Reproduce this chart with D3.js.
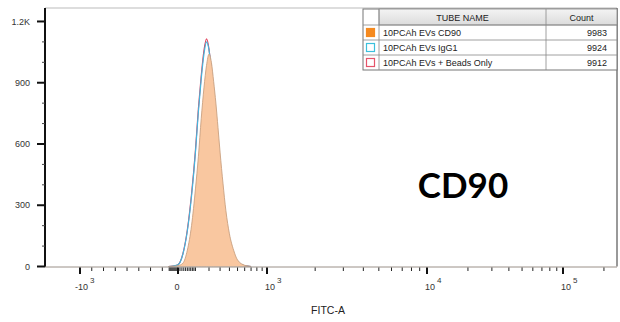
<!DOCTYPE html>
<html><head><meta charset="utf-8">
<script src="https://cdn.jsdelivr.net/npm/d3@7"></script>
<style>html,body{margin:0;padding:0;background:#fff;}svg{display:block;font-family:"Liberation Sans",Arial,sans-serif;}</style>
</head><body><svg id="c" width="620" height="322"></svg>
<script>
// ---- data ----
const tubeNames = ["10PCAh EVs CD90", "10PCAh EVs IgG1", "10PCAh EVs + Beads Only"];
const tubeCounts = [9983, 9924, 9912];
const fitcValues = [-100, -50, 0, 25, 50, 75, 100, 120, 140, 160, 180, 200, 220, 240, 260, 280, 300, 330, 360, 400, 450, 500, 600, 700];
const cd90Counts  = [0, 1, 4, 16, 80, 200, 380, 540, 725, 875, 985, 1040, 1000, 905, 800, 680, 560, 405, 275, 160, 80, 32, 6, 0];
const igg1Counts  = [0, 2, 8, 60, 175, 345, 560, 760, 920, 1040, 1100, 1060, 960, 850, 720, 590, 480, 330, 220, 130, 60, 20, 3, 0];
const beadsCounts = [0, 2, 9, 62, 180, 355, 570, 775, 935, 1058, 1115, 1065, 955, 840, 710, 585, 470, 325, 215, 125, 58, 18, 3, 0];
const yTickValues = [0, 300, 600, 900, 1200];
const yTickLabels = ["0", "300", "600", "900", "1.2K"];
const yMinorTicks = [100, 200, 400, 500, 700, 800, 1000, 1100];
const xMajorTicks = [-1000, 0, 1000, 10000, 100000];
const xLabelBases = ["-10", "0", "10", "10", "10"];
const xLabelExps  = ["3", "", "3", "4", "5"];
const xMinorTicks = [-880,-760,-640,-520,-400,-280,-160,-90,-80,-70,-60,-50,-40,-30,-20,-10,
  10,20,30,40,50,60,70,80,90,100,200,300,400,500,600,700,800,900,
  2000,3000,4000,5000,6000,7000,8000,9000,20000,30000,40000,50000,60000,70000,80000,90000,200000];
const xAxisTitle = "FITC-A";
const chartTitle = "CD90";

// ---- layout ----
const L = 45, R = 617, T = 8, B = 266.5;
const svg = d3.select("#c");

const xNeg = d3.scaleLinear().domain([-1000, 0]).range([80, 178]);
const xMid = d3.scaleSymlog().constant(300).domain([0, 1000]).range([178, 267]);
const xHigh = d3.scaleLog().domain([1000, 10000, 100000]).range([267, 427, 563]);
const x = v => v < 0 ? xNeg(v) : (v <= 1000 ? xMid(v) : xHigh(v));
const y = d3.scaleLinear().domain([0, 1266]).range([B, T]);

svg.append("defs").append("clipPath").attr("id", "clip")
  .append("rect").attr("x", L).attr("y", T).attr("width", R - L).attr("height", B - T);
const grad = svg.select("defs").append("linearGradient").attr("id", "hdr").attr("x1", 0).attr("x2", 0).attr("y1", 0).attr("y2", 1);
grad.append("stop").attr("offset", "0%").attr("stop-color", "#f4f4f4");
grad.append("stop").attr("offset", "100%").attr("stop-color", "#dcdcdc");

// frame
svg.append("line").attr("x1", L).attr("x2", R).attr("y1", T).attr("y2", T).attr("stroke", "#bbb").attr("stroke-width", 1);
svg.append("line").attr("x1", R).attr("x2", R).attr("y1", T).attr("y2", B).attr("stroke", "#555").attr("stroke-width", 1.2);

// curves
const mk = arr => fitcValues.map((v, i) => ({x: v, c: arr[i]}));
const g = svg.append("g").attr("clip-path", "url(#clip)");
const line = d3.line().x(d => x(d.x)).y(d => y(d.c)).curve(d3.curveMonotoneX);
const area = d3.area().x(d => x(d.x)).y0(y(0)).y1(d => y(d.c)).curve(d3.curveMonotoneX);
g.append("path").attr("d", line(mk(beadsCounts))).attr("fill", "none").attr("stroke", "#e0405a").attr("stroke-width", 1.2);
g.append("path").attr("d", line(mk(igg1Counts))).attr("fill", "none").attr("stroke", "#45b4dc").attr("stroke-width", 1.2);
g.append("path").attr("d", area(mk(cd90Counts))).attr("fill", "#f9c7a0").attr("stroke", "#c9a080").attr("stroke-width", 0.9);

// y axis
svg.append("line").attr("x1", L).attr("x2", L).attr("y1", T).attr("y2", B + 0.5).attr("stroke", "#111").attr("stroke-width", 2);
yTickValues.forEach((v, i) => {
  svg.append("line").attr("x1", 37).attr("x2", L).attr("y1", y(v)).attr("y2", y(v)).attr("stroke", "#111").attr("stroke-width", 2);
  svg.append("text").attr("x", 30).attr("y", y(v) + 3.2).attr("text-anchor", "end")
    .attr("font-size", 9).attr("fill", "#333").text(yTickLabels[i]);
});
yMinorTicks.forEach(v => {
  svg.append("line").attr("x1", 42).attr("x2", L).attr("y1", y(v)).attr("y2", y(v)).attr("stroke", "#444").attr("stroke-width", 1);
});

// x axis
svg.append("line").attr("x1", L).attr("x2", R).attr("y1", B + 0.5).attr("y2", B + 0.5).attr("stroke", "#9a9088").attr("stroke-width", 1);
xMinorTicks.forEach(v => {
  const px = x(v);
  if (px < L || px > R) return;
  svg.append("line").attr("x1", px).attr("x2", px).attr("y1", B + 1).attr("y2", B + 4.5).attr("stroke", "#222").attr("stroke-width", 1);
});
xMajorTicks.forEach((v, i) => {
  const px = x(v);
  svg.append("line").attr("x1", px).attr("x2", px).attr("y1", B + 1).attr("y2", B + 7.5).attr("stroke", "#111").attr("stroke-width", 2);
  const base = xLabelBases[i], ex = xLabelExps[i];
  if (!ex) {
    svg.append("text").attr("x", px - 1).attr("y", 289.5).attr("text-anchor", "middle").attr("font-size", 9).attr("fill", "#333").text(base);
  } else {
    const neg = base.startsWith("-");
    const t = svg.append("text").attr("y", 289.5).attr("font-size", 9).attr("fill", "#333").text(base);
    const start = neg ? px - 5 : px - 2;
    t.attr("x", start);
    const w = t.node().getComputedTextLength();
    svg.append("text").attr("x", start + w + 2).attr("y", 283).attr("font-size", 8).attr("fill", "#333").text(ex);
  }
});
svg.append("text").attr("x", 328).attr("y", 314).attr("text-anchor", "middle").attr("font-size", 10.5).attr("fill", "#222").text(xAxisTitle);

// legend table
const lx0 = 363, lx1 = 379, lx2 = 546, lx3 = 617, ly0 = 9, hdrH = 16, rowH = 15;
const lg = svg.append("g");
lg.append("rect").attr("x", lx0).attr("y", ly0).attr("width", lx3 - lx0).attr("height", hdrH + rowH * 3).attr("fill", "#fff").attr("stroke", "#777").attr("stroke-width", 1);
lg.append("rect").attr("x", lx1).attr("y", ly0).attr("width", lx3 - lx1).attr("height", hdrH).attr("fill", "url(#hdr)").attr("stroke", "#888").attr("stroke-width", 0.8);
lg.append("text").attr("x", (lx1 + lx2) / 2).attr("y", ly0 + 11.5).attr("text-anchor", "middle").attr("font-size", 9).attr("fill", "#222").text("TUBE NAME");
lg.append("text").attr("x", (lx2 + lx3) / 2).attr("y", ly0 + 11.5).attr("text-anchor", "middle").attr("font-size", 9).attr("fill", "#222").text("Count");
[lx1, lx2].forEach(cx => lg.append("line").attr("x1", cx).attr("x2", cx).attr("y1", ly0).attr("y2", ly0 + hdrH + rowH * 3).attr("stroke", "#888").attr("stroke-width", 0.8));
const iconFill = ["#f58a1f", "#fff", "#fff"];
const iconStroke = ["#f58a1f", "#3cc0dc", "#e5546a"];
tubeNames.forEach((nm, i) => {
  const ry = ly0 + hdrH + rowH * i;
  lg.append("line").attr("x1", lx0).attr("x2", lx3).attr("y1", ry).attr("y2", ry).attr("stroke", "#888").attr("stroke-width", 0.8);
  lg.append("rect").attr("x", lx0 + 3.5).attr("y", ry + 3.5).attr("width", 8).attr("height", 8)
    .attr("fill", iconFill[i]).attr("stroke", iconStroke[i]).attr("stroke-width", 1.2);
  lg.append("text").attr("x", lx1 + 4).attr("y", ry + 11).attr("font-size", 9).attr("fill", "#222").text(nm);
  lg.append("text").attr("x", lx3 - 10).attr("y", ry + 11).attr("text-anchor", "end").attr("font-size", 9).attr("fill", "#222").text(tubeCounts[i]);
});

// title
svg.append("text").attr("x", 463).attr("y", 198).attr("text-anchor", "middle")
  .attr("font-family", "Lato, 'Open Sans', sans-serif").attr("font-weight", "bold").attr("font-size", 35).attr("fill", "#000").text(chartTitle);
</script></body></html>
